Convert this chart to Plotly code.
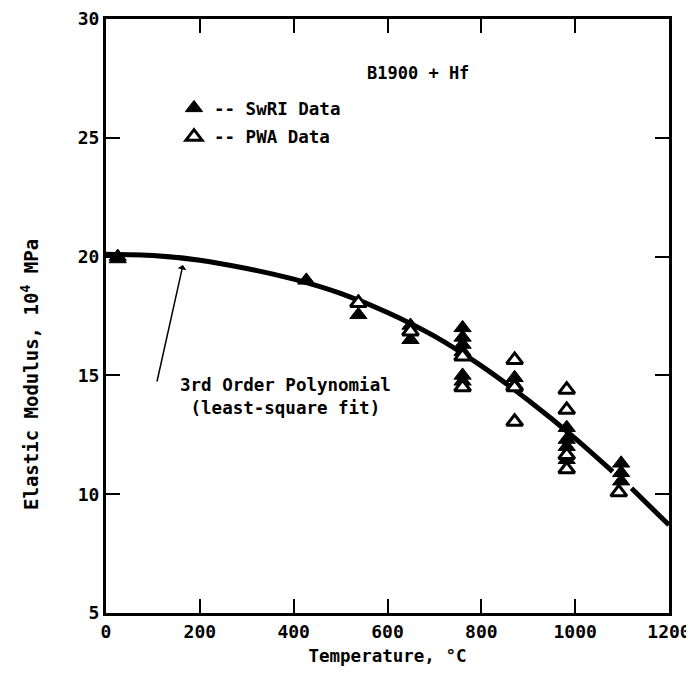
import plotly.graph_objects as go

# Fitted curve, gap near 1100 as in original
curve_T = [0, 100, 200, 300, 400, 500, 600, 700, 800, 900, 1000, 1080, None, 1120, 1200]
curve_E = [20.1, 20.05, 19.85, 19.5, 19.05, 18.45, 17.65, 16.65, 15.4, 13.95, 12.35, 10.95, None, 10.25, 8.7]

# SwRI data (filled triangles)
swri_T = [25, 25, 427, 538, 649, 649, 760, 760, 760, 760, 760, 760, 871, 871, 982, 982, 982, 982, 1098, 1098, 1098]
swri_E = [20.0, 19.9, 19.0, 17.55, 17.1, 16.5, 17.0, 16.6, 16.3, 16.0, 15.0, 14.75, 14.9, 14.6, 12.8, 12.3, 12.0, 11.45, 11.3, 10.9, 10.55]

# PWA data (open triangles)
pwa_T = [538, 649, 760, 760, 871, 871, 871, 982, 982, 982, 982, 1093]
pwa_E = [18.05, 16.85, 15.8, 14.5, 15.65, 14.5, 13.05, 14.4, 13.55, 11.65, 11.05, 10.08]

x_ticks = [0, 200, 400, 600, 800, 1000, 1200]
y_ticks = [5, 10, 15, 20, 25, 30]

FONT = "DejaVu Sans Mono"
# page body has an 8px default margin; compensate so the figure fills the window
OFF = 8
W, H = 694 - OFF, 690 - OFF
L, R, T, B = 106 - OFF, 25, 19 - OFF, 77
PW = W - L - R
PH = H - T - B


def px(xp):
    return (xp - OFF - L) / PW


def py(yp):
    return (OFF + H - B - yp) / PH


fig = go.Figure()
fig.add_trace(go.Scatter(x=curve_T, y=curve_E, mode="lines",
                         line=dict(color="black", width=5, shape="spline", smoothing=0.6),
                         showlegend=False, connectgaps=False))
fig.add_trace(go.Scatter(x=swri_T, y=swri_E, mode="markers", name="-- SwRI Data",
                         legendgroup="a",
                         marker=dict(symbol="triangle-up", size=15, color="black",
                                     line=dict(color="black", width=1))))
fig.add_trace(go.Scatter(x=pwa_T, y=pwa_E, mode="markers", name="-- PWA Data",
                         legendgroup="b",
                         marker=dict(symbol="triangle-up", size=14, color="white",
                                     line=dict(color="black", width=3))))

fig.add_annotation(x=664, y=27.73, xref="x", yref="y", text="B1900 + Hf",
                   showarrow=False, font=dict(family=FONT, size=17, color="black", weight="bold"))
fig.add_annotation(x=383, y=14.1, xref="x", yref="y",
                   text="3rd Order Polynomial<br>(least-square fit)",
                   showarrow=False, align="center",
                   font=dict(family=FONT, size=17.5, color="black", weight="bold"))
fig.add_annotation(x=164, y=19.65, xref="x", yref="y", ax=108, ay=14.68, axref="x", ayref="y",
                   text="", showarrow=True, arrowhead=1, arrowsize=1, arrowwidth=1.5,
                   arrowcolor="black")
fig.add_annotation(x=px(30), y=py(375), xref="paper", yref="paper", xanchor="center", yanchor="middle",
                   text="Elastic Modulus, 10<sup>4</sup> MPa", textangle=-90, showarrow=False,
                   font=dict(family=FONT, size=19, color="black", weight="bold"))

axis_common = dict(showline=True, linecolor="black", linewidth=3, mirror="ticks",
                   ticks="inside", ticklen=14, tickwidth=2, tickcolor="black",
                   showgrid=False, zeroline=False, automargin=False,
                   tickfont=dict(family=FONT, size=18, color="black", weight="bold"))

fig.update_xaxes(range=[0, 1200], tickvals=x_ticks, ticktext=[str(v) for v in x_ticks],
                 title=dict(text="Temperature, °C", standoff=10,
                            font=dict(family=FONT, size=17.5, color="black", weight="bold")),
                 **axis_common)
fig.update_yaxes(range=[5, 30], tickvals=y_ticks, ticktext=[str(v) for v in y_ticks],
                 **axis_common)

fig.update_layout(width=W, height=H, margin=dict(l=L, r=R, t=T, b=B, autoexpand=False),
                  paper_bgcolor="white", plot_bgcolor="white",
                  legend=dict(x=px(174), y=py(90), xanchor="left", yanchor="top",
                              bgcolor="rgba(0,0,0,0)", tracegroupgap=3, traceorder="grouped",
                              font=dict(family=FONT, size=17.5, color="black", weight="bold")),
                  font=dict(family=FONT, color="black"))

fig.write_html("out.html")
